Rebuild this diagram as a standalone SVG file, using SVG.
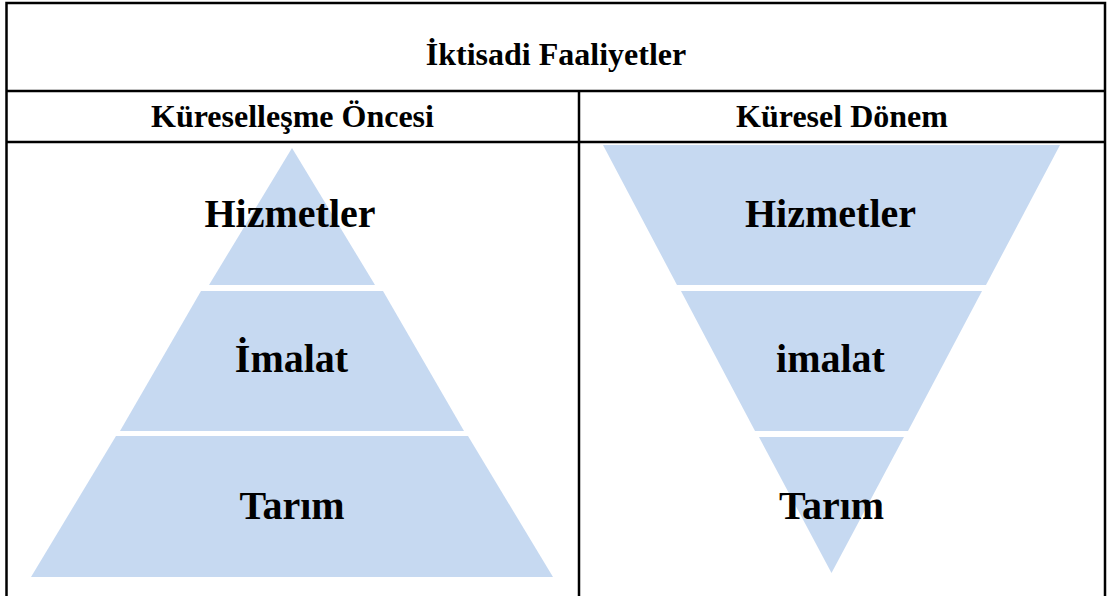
<svg xmlns="http://www.w3.org/2000/svg" width="1109" height="596" viewBox="0 0 1109 596">
<style>
.seg{fill:#C6D9F1;}
.lbl{font-family:"Liberation Serif","Times New Roman",serif;font-weight:bold;fill:#000;text-anchor:middle;}
.big{font-size:40px;}
.hdr{font-size:32px;}
.rule{stroke:#000;stroke-width:2.5;fill:none;}
</style>
<rect width="1109" height="596" fill="#fff"/>
<g id="table">
<path class="rule" d="M6.5,596 V3 H1105 V596 M6.5,91 H1105 M6.5,142 H1105 M579,91 V596"/>
<text class="lbl hdr" x="556" y="65">İktisadi Faaliyetler</text>
<text class="lbl hdr" x="292.5" y="127">Küreselleşme Öncesi</text>
<text class="lbl hdr" x="842" y="127">Küresel Dönem</text>
</g>
<g id="left-hizmetler">
<polygon class="seg" points="292,148 375,285 209,285"/>
<text class="lbl big" x="290" y="227">Hizmetler</text>
</g>
<g id="left-imalat">
<polygon class="seg" points="201,291 383,291 464,431 120,431"/>
<text class="lbl big" x="291.5" y="372">İmalat</text>
</g>
<g id="left-tarim">
<polygon class="seg" points="116,436 468,436 553,577 31,577"/>
<text class="lbl big" x="292" y="519">Tarım</text>
</g>
<g id="right-hizmetler">
<polygon class="seg" points="603,145 1060,145 986,285 677,285"/>
<text class="lbl big" x="830.5" y="227">Hizmetler</text>
</g>
<g id="right-imalat">
<polygon class="seg" points="681,291 982,291 908,431 755,431"/>
<text class="lbl big" x="830.5" y="372">imalat</text>
</g>
<g id="right-tarim">
<polygon class="seg" points="759,437 904,437 831.5,573"/>
<text class="lbl big" x="831.5" y="519">Tarım</text>
</g>
<g id="connectors"/>
</svg>
